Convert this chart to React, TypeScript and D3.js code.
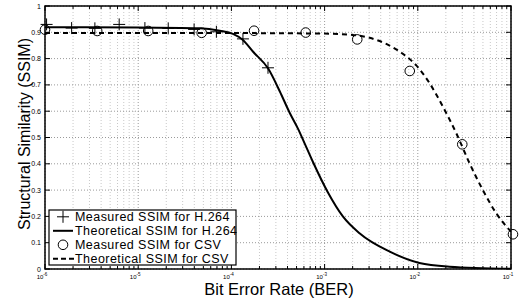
import { useEffect, useRef } from 'react';
import * as d3 from 'd3';

// Theoretical curves (BER, SSIM)
const h264TheoryBer = [1e-6, 1e-5, 4.6e-5, 7.5e-5, 1.04e-4, 1.33e-4, 1.71e-4, 2.47e-4, 3.3e-4, 4.23e-4, 5.19e-4, 6.12e-4, 7.5e-4, 1.09e-3, 1.57e-3, 2.37e-3, 5.0e-3, 1.04e-2, 2.19e-2, 0.1];
const h264TheorySsim = [0.919, 0.918, 0.915, 0.906, 0.894, 0.871, 0.826, 0.763, 0.676, 0.593, 0.533, 0.477, 0.407, 0.29, 0.2, 0.136, 0.066, 0.023, 0.009, 0.001];

const csvTheoryBer = [1e-6, 1e-4, 1e-3, 2.0e-3, 3.04e-3, 4.59e-3, 6.92e-3, 9.64e-3, 1.34e-2, 1.86e-2, 2.59e-2, 3.59e-2, 4.99e-2, 6.94e-2, 0.1];
const csvTheorySsim = [0.897, 0.897, 0.895, 0.89, 0.879, 0.856, 0.818, 0.774, 0.706, 0.617, 0.516, 0.402, 0.30, 0.212, 0.142];

// Measured points
const h264MeasBer = [1.04e-6, 1.93e-6, 3.43e-6, 6.25e-6, 1.18e-5, 2.1e-5, 3.98e-5, 6.9e-5, 1.33e-4, 2.47e-4];
const h264MeasSsim = [0.93, 0.916, 0.915, 0.93, 0.916, 0.915, 0.911, 0.902, 0.875, 0.765];

const csvMeasBer = [1e-6, 3.63e-6, 1.28e-5, 4.8e-5, 1.75e-4, 6.27e-4, 2.24e-3, 8.2e-3, 3.0e-2, 0.105];
const csvMeasSsim = [0.91, 0.905, 0.905, 0.898, 0.906, 0.899, 0.873, 0.753, 0.474, 0.132];

const xTickExps = [-6, -5, -4, -3, -2, -1];
const yTicks = [0, 0.1, 0.2, 0.3, 0.4, 0.5, 0.6, 0.7, 0.8, 0.9, 1];
const legendLabels = [
  'Measured SSIM for H.264',
  'Theoretical SSIM for H.264',
  'Measured SSIM for CSV',
  'Theoretical SSIM for CSV',
];

const W = 521;
const H = 307;

const App = () => {
  const svgRef = useRef<SVGSVGElement>(null);

  useEffect(() => {
    if (!svgRef.current) return;
    const svg = d3.select(svgRef.current);
    svg.selectAll('*').remove();

    const left = 45, right = 511, top = 6, bottom = 269;
    const font = 'Liberation Sans, Arial, Helvetica, sans-serif';

    const x = d3.scaleLog().domain([1e-6, 1e-1]).range([left, right]);
    const y = d3.scaleLinear().domain([0, 1]).range([bottom, top]);

    svg.append('rect').attr('width', W).attr('height', H).attr('fill', '#fff');

    // grid
    const grid = svg.append('g');
    const minor: number[] = [];
    for (let e = -6; e < -1; e++) {
      for (let k = 2; k <= 9; k++) minor.push(k * Math.pow(10, e));
    }
    grid.selectAll('.minor')
      .data(minor)
      .join('line')
      .attr('x1', d => x(d)).attr('x2', d => x(d))
      .attr('y1', top).attr('y2', bottom)
      .attr('stroke', '#c8c8c8')
      .attr('stroke-width', 1)
      .attr('stroke-dasharray', '1,2');
    grid.selectAll('.major')
      .data(xTickExps)
      .join('line')
      .attr('x1', d => x(Math.pow(10, d))).attr('x2', d => x(Math.pow(10, d)))
      .attr('y1', top).attr('y2', bottom)
      .attr('stroke', '#9a9a9a')
      .attr('stroke-width', 1)
      .attr('stroke-dasharray', '1,2');
    grid.selectAll('.hgrid')
      .data(yTicks)
      .join('line')
      .attr('x1', left).attr('x2', right)
      .attr('y1', d => y(d)).attr('y2', d => y(d))
      .attr('stroke', '#9a9a9a')
      .attr('stroke-width', 1)
      .attr('stroke-dasharray', '1,2');

    // ticks (inward, on all four sides)
    const ticks = svg.append('g').attr('stroke', '#000').attr('stroke-width', 1);
    xTickExps.forEach(e => {
      const px = x(Math.pow(10, e));
      ticks.append('line').attr('x1', px).attr('x2', px).attr('y1', bottom).attr('y2', bottom - 5);
      ticks.append('line').attr('x1', px).attr('x2', px).attr('y1', top).attr('y2', top + 5);
    });
    minor.forEach(v => {
      const px = x(v);
      ticks.append('line').attr('x1', px).attr('x2', px).attr('y1', bottom).attr('y2', bottom - 3);
      ticks.append('line').attr('x1', px).attr('x2', px).attr('y1', top).attr('y2', top + 3);
    });
    yTicks.forEach(v => {
      ticks.append('line').attr('x1', left).attr('x2', left + 5).attr('y1', y(v)).attr('y2', y(v));
      ticks.append('line').attr('x1', right).attr('x2', right - 5).attr('y1', y(v)).attr('y2', y(v));
    });

    // tick labels
    svg.append('g')
      .selectAll('text')
      .data(yTicks)
      .join('text')
      .attr('x', left - 4)
      .attr('y', d => y(d) + 2.5)
      .attr('text-anchor', 'end')
      .style('font-family', font)
      .style('font-size', '7px')
      .text(d => String(d));

    const xl = svg.append('g')
      .selectAll('text')
      .data(xTickExps)
      .join('text')
      .attr('x', d => x(Math.pow(10, d)) - 3)
      .attr('y', bottom + 10)
      .attr('text-anchor', 'middle')
      .style('font-family', font)
      .style('font-size', '6px');
    xl.append('tspan').text('10');
    xl.append('tspan').attr('dy', -3).style('font-size', '4.5px').text(d => String(d));

    // curves
    const clip = svg.append('clipPath').attr('id', 'plotclip');
    clip.append('rect').attr('x', left).attr('y', top).attr('width', right - left).attr('height', bottom - top);

    const line = d3.line<[number, number]>()
      .x(d => x(d[0]))
      .y(d => y(d[1]))
      .curve(d3.curveMonotoneX);

    const plot = svg.append('g').attr('clip-path', 'url(#plotclip)');
    plot.append('path')
      .attr('d', line(h264TheoryBer.map((b, i) => [b, h264TheorySsim[i]] as [number, number])))
      .attr('fill', 'none')
      .attr('stroke', '#000')
      .attr('stroke-width', 2);
    plot.append('path')
      .attr('d', line(csvTheoryBer.map((b, i) => [b, csvTheorySsim[i]] as [number, number])))
      .attr('fill', 'none')
      .attr('stroke', '#000')
      .attr('stroke-width', 2)
      .attr('stroke-dasharray', '5,4');

    // markers
    const marks = svg.append('g');
    const plus = (g: d3.Selection<SVGGElement, unknown, null, undefined>, cx: number, cy: number) => {
      g.append('path')
        .attr('d', `M${cx - 6},${cy}H${cx + 6}M${cx},${cy - 6}V${cy + 6}`)
        .attr('stroke', '#000')
        .attr('stroke-width', 1);
    };
    h264MeasBer.forEach((b, i) => plus(marks, x(b), y(h264MeasSsim[i])));
    marks.selectAll('circle')
      .data(csvMeasBer)
      .join('circle')
      .attr('cx', d => x(d))
      .attr('cy', (_, i) => y(csvMeasSsim[i]))
      .attr('r', 4.8)
      .attr('fill', 'none')
      .attr('stroke', '#000')
      .attr('stroke-width', 1);

    // axes box
    svg.append('rect')
      .attr('x', left).attr('y', top)
      .attr('width', right - left).attr('height', bottom - top)
      .attr('fill', 'none')
      .attr('stroke', '#000')
      .attr('stroke-width', 1.5);

    // axis labels
    svg.append('text')
      .attr('x', 279)
      .attr('y', 295)
      .attr('text-anchor', 'middle')
      .style('font-family', font)
      .style('font-size', '16.5px')
      .text('Bit Error Rate (BER)');
    svg.append('text')
      .attr('transform', 'translate(30,134) rotate(-90)')
      .attr('text-anchor', 'middle')
      .style('font-family', font)
      .style('font-size', '16px')
      .text('Structural Similarity (SSIM)');

    // legend
    const lg = svg.append('g');
    lg.append('rect')
      .attr('x', 49).attr('y', 210)
      .attr('width', 187).attr('height', 55)
      .attr('fill', '#fff')
      .attr('stroke', '#000')
      .attr('stroke-width', 1.2);
    const rowY = [216.8, 230.8, 244.8, 258.8];
    legendLabels.forEach((label, i) => {
      const ry = rowY[i];
      if (i === 0) plus(lg, 63, ry);
      if (i === 1) lg.append('line').attr('x1', 53).attr('x2', 73).attr('y1', ry).attr('y2', ry).attr('stroke', '#000').attr('stroke-width', 2);
      if (i === 2) lg.append('circle').attr('cx', 63).attr('cy', ry).attr('r', 4.8).attr('fill', 'none').attr('stroke', '#000');
      if (i === 3) lg.append('line').attr('x1', 53).attr('x2', 74).attr('y1', ry).attr('y2', ry).attr('stroke', '#000').attr('stroke-width', 2).attr('stroke-dasharray', '5,3');
      lg.append('text')
        .attr('x', 75)
        .attr('y', ry + 4.3)
        .style('font-family', font)
        .style('font-size', '12.5px')
        .style('letter-spacing', '0.45px')
        .text(label);
    });
  }, []);

  return (
    <svg
      ref={svgRef}
      width={W}
      height={H}
      style={{ position: 'absolute', left: 0, top: 0, display: 'block' }}
    />
  );
};

export default App;
